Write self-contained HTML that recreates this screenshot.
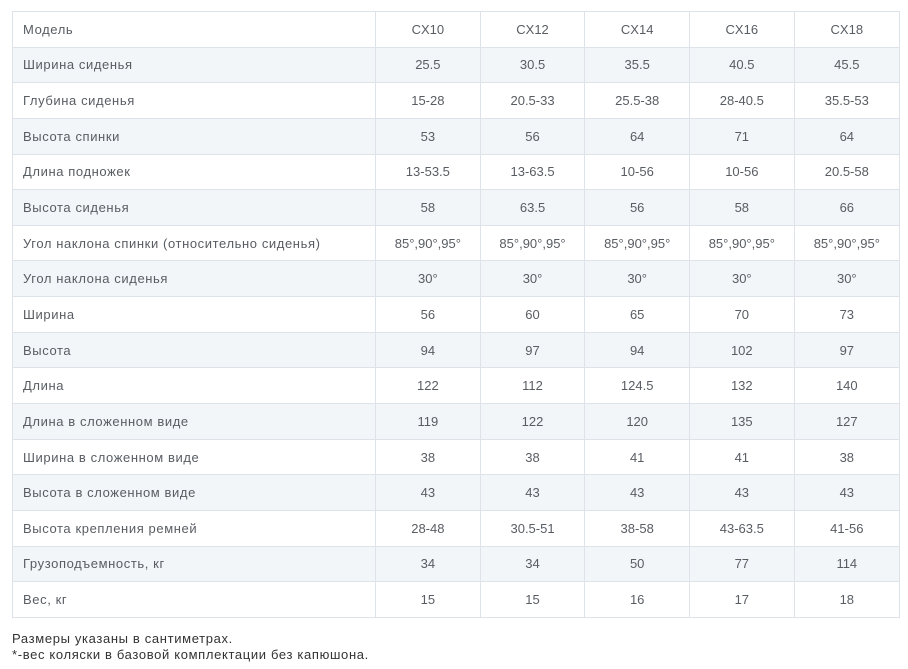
<!DOCTYPE html>
<html>
<head>
<meta charset="utf-8">
<style>
  html,body{margin:0;padding:0;background:#fff;}
  body{width:908px;height:669px;position:relative;overflow:hidden;font-family:"Liberation Sans","DejaVu Sans",sans-serif;}
  table{position:absolute;left:12px;top:11px;border-collapse:collapse;table-layout:fixed;width:887px;}
  td{border:1px solid #dde3e8;height:34.65px;padding:0;font-size:13px;color:#585d63;text-align:center;vertical-align:middle;white-space:nowrap;}
  td:first-child{text-align:left;padding-left:10px;letter-spacing:0.6px;}
  tr:nth-child(even) td{background:#f3f6f8;}
  .note{position:absolute;left:12px;top:631px;font-size:13px;line-height:16px;color:#333;letter-spacing:0.65px;}
</style>
</head>
<body>
<table>
  <colgroup>
    <col style="width:363px"><col style="width:104.7px"><col style="width:104.7px"><col style="width:104.6px"><col style="width:104.7px"><col style="width:105.3px">
  </colgroup>
  <tr><td>Модель</td><td>CX10</td><td>CX12</td><td>CX14</td><td>CX16</td><td>CX18</td></tr>
  <tr><td>Ширина сиденья</td><td>25.5</td><td>30.5</td><td>35.5</td><td>40.5</td><td>45.5</td></tr>
  <tr><td>Глубина сиденья</td><td>15-28</td><td>20.5-33</td><td>25.5-38</td><td>28-40.5</td><td>35.5-53</td></tr>
  <tr><td>Высота спинки</td><td>53</td><td>56</td><td>64</td><td>71</td><td>64</td></tr>
  <tr><td>Длина подножек</td><td>13-53.5</td><td>13-63.5</td><td>10-56</td><td>10-56</td><td>20.5-58</td></tr>
  <tr><td>Высота сиденья</td><td>58</td><td>63.5</td><td>56</td><td>58</td><td>66</td></tr>
  <tr><td>Угол наклона спинки (относительно сиденья)</td><td>85°,90°,95°</td><td>85°,90°,95°</td><td>85°,90°,95°</td><td>85°,90°,95°</td><td>85°,90°,95°</td></tr>
  <tr><td>Угол наклона сиденья</td><td>30°</td><td>30°</td><td>30°</td><td>30°</td><td>30°</td></tr>
  <tr><td>Ширина</td><td>56</td><td>60</td><td>65</td><td>70</td><td>73</td></tr>
  <tr><td>Высота</td><td>94</td><td>97</td><td>94</td><td>102</td><td>97</td></tr>
  <tr><td>Длина</td><td>122</td><td>112</td><td>124.5</td><td>132</td><td>140</td></tr>
  <tr><td>Длина в сложенном виде</td><td>119</td><td>122</td><td>120</td><td>135</td><td>127</td></tr>
  <tr><td>Ширина в сложенном виде</td><td>38</td><td>38</td><td>41</td><td>41</td><td>38</td></tr>
  <tr><td>Высота в сложенном виде</td><td>43</td><td>43</td><td>43</td><td>43</td><td>43</td></tr>
  <tr><td>Высота крепления ремней</td><td>28-48</td><td>30.5-51</td><td>38-58</td><td>43-63.5</td><td>41-56</td></tr>
  <tr><td>Грузоподъемность, кг</td><td>34</td><td>34</td><td>50</td><td>77</td><td>114</td></tr>
  <tr><td>Вес, кг</td><td>15</td><td>15</td><td>16</td><td>17</td><td>18</td></tr>
</table>
<div class="note">Размеры указаны в сантиметрах.<br>*-вес коляски в базовой комплектации без капюшона.</div>
</body>
</html>
